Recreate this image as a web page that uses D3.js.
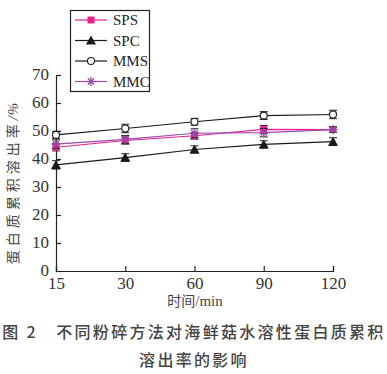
<!DOCTYPE html>
<html>
<head>
<meta charset="utf-8">
<script src="https://cdn.jsdelivr.net/npm/d3@7"></script>
<style>
  body { margin: 0; background: #fff; }
  svg { display: block; }
</style>
</head>
<body>
<svg id="chart" width="387" height="374"></svg>
<script>
// Data
const times = ["15", "30", "60", "90", "120"];
const spsValues = [44.2, 46.6, 48.3, 50.6, 50.5];
const spcValues = [37.9, 40.5, 43.4, 45.2, 46.2];
const mmsValues = [48.6, 50.9, 53.3, 55.5, 55.9];
const mmcValues = [45.3, 47.0, 49.2, 49.4, 50.5];
const spsErr = [1.3, 1.3, 1.2, 1.4, 1.0];
const spcErr = [1.5, 1.4, 1.3, 1.3, 1.4];
const mmsErr = [1.3, 1.5, 1.2, 1.4, 1.5];
const mmcErr = [1.5, 1.4, 1.6, 1.5, 1.0];
const yTicks = [0, 10, 20, 30, 40, 50, 60, 70];

const series = [
    { name: "SPS", values: spsValues, err: spsErr, color: "#e6218f", marker: "square" },
    { name: "SPC", values: spcValues, err: spcErr, color: "#1a1a1a", marker: "triangle" },
    { name: "MMS", values: mmsValues, err: mmsErr, color: "#1a1a1a", marker: "circle" },
    { name: "MMC", values: mmcValues, err: mmcErr, color: "#9a4aab", marker: "star" }
];

const svg = d3.select("#chart");
const serif = "'Liberation Serif', 'DejaVu Serif', serif";
const cjk = "'Noto Sans CJK SC', sans-serif";

// Scales
const x = d3.scalePoint().domain(times).range([56, 333]);
const y = d3.scaleLinear().domain([0, 70]).range([271, 75]);

// Axes (ticks point inward)
const xAxis = svg.append("g")
    .attr("transform", `translate(0,${y(0)})`)
    .call(d3.axisBottom(x).tickSize(-5).tickPadding(8));
const yAxis = svg.append("g")
    .attr("transform", `translate(${x(times[0])},0)`)
    .call(d3.axisLeft(y).tickValues(yTicks).tickSize(-5).tickPadding(7));

[xAxis, yAxis].forEach(g => {
    g.select(".domain").attr("stroke", "#222").attr("stroke-width", 1.2);
    g.selectAll(".tick line").attr("stroke", "#222").attr("stroke-width", 1.2);
    g.selectAll(".tick text")
        .style("font-family", serif)
        .style("font-size", "17px")
        .attr("fill", "#333");
});
xAxis.selectAll(".tick text").attr("dy", "0.6em");
yAxis.selectAll(".tick text").attr("dy", "0.28em");

// Marker drawing
function drawMarker(g, type, color, cx, cy) {
    if (type === "square") {
        g.append("rect").attr("x", cx - 3.5).attr("y", cy - 3.5)
            .attr("width", 7).attr("height", 7).attr("fill", color);
    } else if (type === "triangle") {
        g.append("path")
            .attr("d", `M${cx},${cy - 5}L${cx + 5},${cy + 4}L${cx - 5},${cy + 4}Z`)
            .attr("fill", color);
    } else if (type === "circle") {
        g.append("circle").attr("cx", cx).attr("cy", cy).attr("r", 3.5)
            .attr("fill", "#fff").attr("stroke", color).attr("stroke-width", 1.1);
    } else if (type === "star") {
        const r = 4.5;
        [0, 45, 90, 135].forEach(a => {
            const rad = a * Math.PI / 180;
            g.append("line")
                .attr("x1", cx - r * Math.cos(rad)).attr("y1", cy - r * Math.sin(rad))
                .attr("x2", cx + r * Math.cos(rad)).attr("y2", cy + r * Math.sin(rad))
                .attr("stroke", color).attr("stroke-width", 1.3);
        });
    }
}

const line = d3.line().x((d, i) => x(times[i])).y(d => y(d));

// Series: lines, error bars, markers
series.forEach(s => {
    const g = svg.append("g");
    g.append("path")
        .datum(s.values)
        .attr("d", line)
        .attr("fill", "none")
        .attr("stroke", s.color)
        .attr("stroke-width", 1.2);

    s.values.forEach((v, i) => {
        const cx = x(times[i]);
        const top = y(v + s.err[i]), bot = y(v - s.err[i]);
        g.append("line").attr("x1", cx).attr("x2", cx).attr("y1", top).attr("y2", bot)
            .attr("stroke", "#222").attr("stroke-width", 1);
        [top, bot].forEach(yy => {
            g.append("line").attr("x1", cx - 4).attr("x2", cx + 4).attr("y1", yy).attr("y2", yy)
                .attr("stroke", "#222").attr("stroke-width", 1);
        });
        drawMarker(g, s.marker, s.color, cx, y(v));
    });
});

// Legend
const legend = svg.append("g");
legend.append("rect")
    .attr("x", 70.5).attr("y", 10.5).attr("width", 79).attr("height", 81)
    .attr("fill", "#fff").attr("stroke", "#222").attr("stroke-width", 1.2);
series.forEach((s, i) => {
    const ly = 20 + i * 20.5;
    legend.append("line").attr("x1", 75).attr("x2", 107).attr("y1", ly).attr("y2", ly)
        .attr("stroke", s.color).attr("stroke-width", 1.2);
    drawMarker(legend, s.marker, s.color, 91, ly);
    legend.append("text")
        .attr("x", 113).attr("y", ly).attr("dy", "0.35em")
        .style("font-family", serif).style("font-size", "15px")
        .attr("fill", "#222")
        .text(s.name);
});

// Axis titles
svg.append("text")
    .attr("x", 195).attr("y", 306)
    .attr("text-anchor", "middle")
    .attr("fill", "#444")
    .style("font-size", "14px")
    .html(`<tspan style="font-family:${cjk}">时间</tspan><tspan style="font-family:${serif};font-size:15px">/min</tspan>`);

svg.append("text")
    .attr("transform", "translate(18,183) rotate(-90)")
    .attr("text-anchor", "middle")
    .attr("fill", "#444")
    .style("font-size", "14px")
    .style("letter-spacing", "4px")
    .html(`<tspan style="font-family:${cjk}">蛋白质累积溶出率</tspan><tspan style="font-family:${serif};font-size:15px;font-style:italic;letter-spacing:1px">/%</tspan>`);

// Caption
svg.append("text")
    .attr("x", 194).attr("y", 338)
    .attr("text-anchor", "middle")
    .attr("fill", "#444")
    .style("font-family", cjk).style("font-size", "16px").style("font-weight", "500")
    .style("letter-spacing", "2.3px")
    .text("图 2　不同粉碎方法对海鲜菇水溶性蛋白质累积");
svg.append("text")
    .attr("x", 194).attr("y", 366)
    .attr("text-anchor", "middle")
    .attr("fill", "#444")
    .style("font-family", cjk).style("font-size", "16px").style("font-weight", "500")
    .style("letter-spacing", "2.3px")
    .text("溶出率的影响");
</script>
</body>
</html>
